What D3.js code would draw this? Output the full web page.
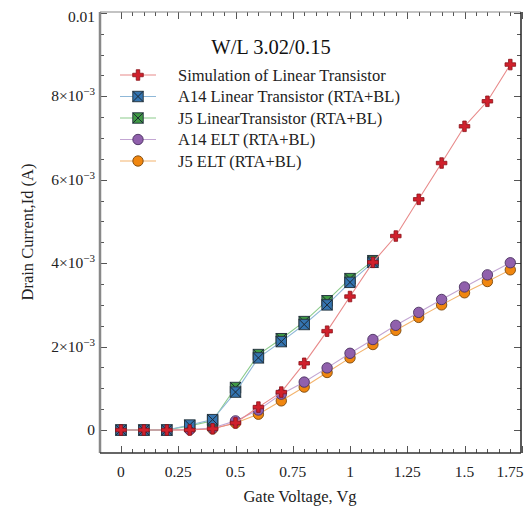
<!DOCTYPE html>
<html>
<head>
<meta charset="utf-8">
<script src="https://cdn.jsdelivr.net/npm/d3@7"></script>
<style>
  html, body { margin: 0; padding: 0; background: #fff; }
  svg { display: block; font-family: "Liberation Serif", "Times New Roman", serif; }
</style>
</head>
<body>
<svg id="chart" width="530" height="508"></svg>
<script>
// Gate voltage sweep (V)
const vg = [0, 0.1, 0.2, 0.3, 0.4, 0.5, 0.6, 0.7, 0.8, 0.9, 1.0, 1.1, 1.2, 1.3, 1.4, 1.5, 1.6, 1.7];

// Drain current (A) for each device
const simLinear = [0, 0, 0, 0, 0.00003, 0.00017, 0.00055, 0.00091, 0.0016, 0.00237, 0.0032, 0.00402,
                   0.00465, 0.00553, 0.0064, 0.00728, 0.00788, 0.00876];
const a14Linear = [0, 0, 0, 0.00012, 0.00025, 0.00091, 0.00173, 0.00212, 0.00253, 0.003, 0.00354, 0.00402];
const j5Linear  = [0, 0, 0, 0.0001, 0.00022, 0.00102, 0.00181, 0.00219, 0.0026, 0.0031, 0.00363, 0.00406];
const a14ELT    = [0, 0, 0, 0.00001, 0.00005, 0.00022, 0.00048, 0.00086, 0.00115, 0.00149, 0.00184, 0.00217,
                   0.00251, 0.00282, 0.00313, 0.00343, 0.00372, 0.00401];
const j5ELT     = [0, 0, 0, 0.00001, 0.00003, 0.00017, 0.00038, 0.0007, 0.00103, 0.00138, 0.00173, 0.00205,
                   0.00239, 0.0027, 0.003, 0.00329, 0.00356, 0.00384];

// Axis ticks
const xTicks = [0, 0.25, 0.5, 0.75, 1, 1.25, 1.5, 1.75];
const xTickLabels = ["0", "0.25", "0.5", "0.75", "1", "1.25", "1.5", "1.75"];
const yTicks = [0, 0.002, 0.004, 0.006, 0.008, 0.01];
const yTickLabels = [["0", null], ["2\u00d710", "\u22123"], ["4\u00d710", "\u22123"], ["6\u00d710", "\u22123"],
                     ["8\u00d710", "\u22123"], ["0.01", null]];

const titleText = "W/L 3.02/0.15";
const xLabel = "Gate Voltage, Vg";
const yLabel = "Drain Current,Id (A)";

// Series definitions (drawing order: bottom to top)
const series = [
  { name: "J5 ELT (RTA+BL)", values: j5ELT, shape: "circle", fill: "#f0860f", line: "#f3b46e", stroke: "#7a4a10", legend: 4 },
  { name: "A14 ELT (RTA+BL)", values: a14ELT, shape: "circle", fill: "#9060ac", line: "#c3a6d3", stroke: "#4a3060", legend: 3 },
  { name: "J5 LinearTransistor (RTA+BL)", values: j5Linear, shape: "square", fill: "#3f9a44", line: "#8ccb8c", stroke: "#1f4f22", legend: 2 },
  { name: "A14 Linear Transistor (RTA+BL)", values: a14Linear, shape: "square", fill: "#3474b0", line: "#8fb8d8", stroke: "#1a3552", legend: 1 },
  { name: "Simulation of Linear Transistor", values: simLinear, shape: "plus", fill: "#d0202c", line: "#e88a8a", stroke: "#8a1218", legend: 0 }
];

const svg = d3.select("#chart");
const frame = { left: 100, right: 521, top: 12, bottom: 453 };

const x = d3.scaleLinear().domain([-0.0917, 1.7467]).range([frame.left, frame.right]);
const y = d3.scaleLinear().domain([-0.00055, 0.01002]).range([frame.bottom, frame.top]);

// Minor / major ticks on all four sides, pointing inward
const xMinor = d3.range(0, 1.7501, 0.05).filter(v => !xTicks.some(t => Math.abs(t - v) < 1e-6));
const yMinor = d3.range(0, 0.01001, 0.0005).filter(v => !yTicks.some(t => Math.abs(t - v) < 1e-9));

const ticksG = svg.append("g").attr("stroke", "#555").attr("stroke-width", 1);
function vTicks(vals, len) {
  vals.forEach(v => {
    const px = Math.round(x(v)) + 0.5;
    ticksG.append("line").attr("x1", px).attr("x2", px).attr("y1", frame.bottom).attr("y2", frame.bottom - len);
    ticksG.append("line").attr("x1", px).attr("x2", px).attr("y1", frame.top).attr("y2", frame.top + len);
  });
}
function hTicks(vals, len) {
  vals.forEach(v => {
    const py = Math.round(y(v)) + 0.5;
    ticksG.append("line").attr("y1", py).attr("y2", py).attr("x1", frame.left).attr("x2", frame.left + len);
    ticksG.append("line").attr("y1", py).attr("y2", py).attr("x1", frame.right).attr("x2", frame.right - len);
  });
}
vTicks(xTicks, 7); vTicks(xMinor, 4);
hTicks(yTicks, 7); hTicks(yMinor, 4);

// Frame
svg.append("line").attr("x1", frame.left).attr("x2", frame.right).attr("y1", frame.top).attr("y2", frame.top)
  .attr("stroke", "#888").attr("stroke-width", 1.2);
svg.append("line").attr("x1", frame.left).attr("x2", frame.left).attr("y1", frame.top).attr("y2", frame.bottom)
  .attr("stroke", "#888").attr("stroke-width", 2.5);
svg.append("line").attr("x1", frame.right).attr("x2", frame.right).attr("y1", frame.top).attr("y2", frame.bottom)
  .attr("stroke", "#222").attr("stroke-width", 1.5);
svg.append("line").attr("x1", frame.left).attr("x2", frame.right).attr("y1", frame.bottom).attr("y2", frame.bottom)
  .attr("stroke", "#333").attr("stroke-width", 1.5);

// Tick labels
svg.append("g").selectAll("text").data(xTicks).join("text")
  .attr("x", (d, i) => Math.min(x(d), 510))
  .attr("y", 477)
  .attr("text-anchor", "middle")
  .attr("font-size", 15.5)
  .attr("fill", "#222")
  .text((d, i) => xTickLabels[i]);

const yl = svg.append("g").selectAll("text").data(yTicks).join("text")
  .attr("x", 95)
  .attr("y", d => Math.max(y(d), 17) + 5)
  .attr("text-anchor", "end")
  .attr("font-size", 15.5)
  .attr("fill", "#222");
yl.each(function (d, i) {
  const t = d3.select(this);
  const [base, exp] = yTickLabels[i];
  if (exp) {
    t.append("tspan").text(base);
    t.append("tspan").attr("dy", -6).attr("font-size", 11).text(exp);
  } else {
    t.text(base);
  }
});

// Axis titles
svg.append("text").attr("x", 300).attr("y", 502).attr("text-anchor", "middle")
  .attr("font-size", 16.5).attr("fill", "#222").text(xLabel);
svg.append("text").attr("transform", "translate(33,232) rotate(-90)").attr("text-anchor", "middle")
  .attr("font-size", 16.5).attr("fill", "#222").text(yLabel);

// Title inside the plot
svg.append("text").attr("x", 271).attr("y", 54).attr("text-anchor", "middle")
  .attr("font-size", 20.5).attr("fill", "#111").text(titleText);

// Marker drawing
const plusPath = d3.symbol().type(d3.symbolCross).size(62)();
function drawMarker(g, s, cx, cy) {
  if (s.shape === "plus") {
    g.append("path").attr("d", plusPath).attr("transform", `translate(${cx},${cy})`)
      .attr("fill", s.fill).attr("stroke", s.stroke).attr("stroke-width", 0.8);
  } else if (s.shape === "square") {
    const h = 5.2;
    g.append("rect").attr("x", cx - h).attr("y", cy - h).attr("width", 2 * h).attr("height", 2 * h)
      .attr("fill", s.fill).attr("stroke", "#2a3a44").attr("stroke-width", 1);
    g.append("path").attr("d", `M${cx - h},${cy - h}L${cx + h},${cy + h}M${cx + h},${cy - h}L${cx - h},${cy + h}`)
      .attr("stroke", "#1d2a35").attr("stroke-width", 1);
  } else {
    g.append("circle").attr("cx", cx).attr("cy", cy).attr("r", 5.2)
      .attr("fill", s.fill).attr("stroke", s.stroke).attr("stroke-width", 0.9);
  }
}

// Data series
const lineGen = d3.line().x(d => x(d[0])).y(d => y(d[1]));
series.forEach(s => {
  const pts = s.values.map((v, i) => [vg[i], v]);
  const g = svg.append("g");
  g.append("path").attr("d", lineGen(pts)).attr("fill", "none").attr("stroke", s.line).attr("stroke-width", 1.1);
  pts.forEach(p => drawMarker(g, s, x(p[0]), y(p[1])));
});

// Legend
const legendRows = [75, 96.5, 118, 139.5, 161];
series.forEach(s => {
  const ry = legendRows[s.legend];
  const g = svg.append("g");
  g.append("line").attr("x1", 120).attr("x2", 156).attr("y1", ry).attr("y2", ry)
    .attr("stroke", s.line).attr("stroke-width", 1.1);
  drawMarker(g, s, 138, ry);
  g.append("text").attr("x", 178).attr("y", ry + 5.5).attr("font-size", 16.5).attr("fill", "#222").text(s.name);
});
</script>
</body>
</html>
